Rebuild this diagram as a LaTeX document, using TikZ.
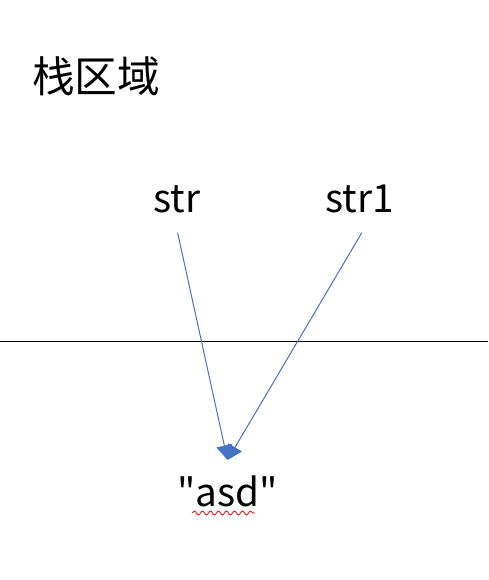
\documentclass[tikz,border=0pt]{standalone}
\usepackage{fontspec}
\newfontfamily\cjk{Noto Sans CJK SC}
\usepackage{xcolor}
\usetikzlibrary{arrows.meta,calc,decorations.pathmorphing}

\begin{document}
\begin{tikzpicture}[x=0.75pt,y=0.75pt,yscale=-1,xscale=1,
  lbl/.style={anchor=base west,inner sep=0.75pt,font=\cjk\fontsize{29}{35}\selectfont},
  ptr/.style={color={rgb, 255:red, 68; green, 114; blue, 196 },line width=0.75,
    -{Triangle[length=11pt,width=12pt]}}]
\useasboundingbox (0,0) rectangle (488,580);

% Text Node
\node [lbl,font=\cjk\fontsize{32}{38}\selectfont] (stack) at (31,93) {栈区域};
% Text Node
\node [lbl] (str) at (152,213) {str};
% Text Node
\node [lbl] (strone) at (324,213) {str1};
% Text Node
\node [lbl] (asd) at (176,506) {"asd"};
\coordinate (tip) at ($(asd.base)+(0,-46)$);

%Straight Lines
\draw    (0,341) -- (488,341) ;
%Straight Lines
\draw [ptr,shorten <=13.8pt]    ([xshift=-2.25pt]str.south) -- (tip) ;
%Straight Lines
\draw [ptr,shorten <=15.7pt]    ([xshift=9.75pt]strone.south) -- (tip) ;
%Wavy underline
\draw [color=red,line width=0.6,decorate,decoration={snake,amplitude=1.5,segment length=6}]
  ($(asd.base west)+(16,7)$) -- ($(asd.base west)+(79,7)$) ;

\end{tikzpicture}
\end{document}
